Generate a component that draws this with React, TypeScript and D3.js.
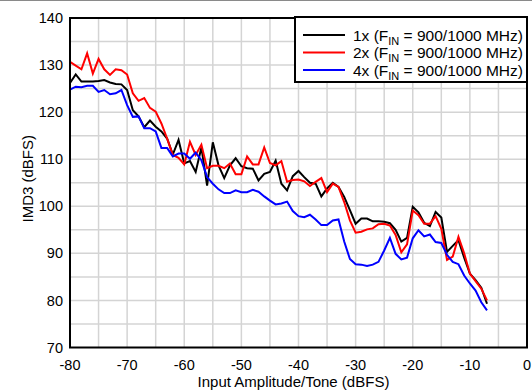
import React from 'react';
import * as d3 from 'd3';

const amplitude = [
  -80, -79, -78, -77, -76, -75, -74, -73, -72, -71,
  -70, -69, -68, -67, -66, -65, -64, -63, -62, -61,
  -60, -59, -58, -57, -56, -55, -54, -53, -52, -51,
  -50, -49, -48, -47, -46, -45, -44, -43, -42, -41,
  -40, -39, -38, -37, -36, -35, -34, -33, -32, -31,
  -30, -29, -28, -27, -26, -25, -24, -23, -22, -21,
  -20, -19, -18, -17, -16, -15, -14, -13, -12, -11,
  -10, -9, -8, -7,
];

const imd1x = [
  126.2, 128.0, 126.5, 126.5, 126.5, 126.6, 126.8, 126.3, 126.0, 125.9,
  124.7, 120.4, 119.1, 116.8, 118.2, 116.9, 115.9, 114.4, 111.0, 114.1,
  109.1, 109.6, 107.3, 112.5, 104.4, 113.6, 108.7, 106.0, 108.7, 110.2,
  108.5, 108.1, 108.0, 105.5, 106.9, 107.3, 109.7, 104.8, 103.4, 106.4,
  107.5, 106.2, 105.0, 104.8, 102.1, 103.8, 105.0, 104.1, 102.0, 99.2,
  96.3, 97.4, 97.4, 96.8, 96.8, 96.7, 96.4, 95.0, 92.5, 93.3,
  99.9, 98.7, 96.5, 95.8, 98.8, 97.6, 90.3, 91.6, 92.8, 89.1,
  85.7, 84.3, 82.7, 79.3,
];

const imd2x = [
  130.7, 129.9, 129.1, 132.5, 128.2, 131.3, 129.1, 127.9, 129.1, 128.9,
  128.0, 124.0, 122.4, 123.0, 120.9, 120.1, 117.6, 114.4, 110.9, 110.3,
  108.9, 113.7, 110.9, 113.1, 108.1, 108.6, 108.6, 108.1, 109.1, 106.8,
  106.8, 110.6, 108.9, 108.9, 112.5, 109.2, 108.7, 109.6, 105.2, 105.6,
  105.7, 105.3, 104.3, 105.2, 106.0, 103.0, 104.8, 104.1, 100.9, 97.0,
  94.4, 94.6, 95.1, 95.3, 96.2, 96.3, 95.9, 93.9, 90.2, 91.9,
  99.1, 98.1, 96.3, 96.3, 97.9, 95.2, 88.6, 89.3, 93.5, 90.0,
  85.7, 84.1, 82.5, 80.0,
];

const imd4x = [
  124.8, 125.4, 125.3, 125.6, 125.6, 124.3, 124.7, 123.8, 124.0, 124.7,
  121.5, 119.0, 119.1, 116.6, 116.6, 115.9, 112.4, 112.4, 110.6, 111.2,
  111.2, 110.1, 111.4, 109.8, 106.2, 104.8, 103.6, 102.8, 102.8, 103.4,
  103.0, 103.0, 103.5, 103.1, 102.1, 101.2, 100.4, 100.6, 101.0, 99.0,
  97.9, 97.7, 98.2, 97.2, 96.0, 96.0, 97.0, 97.2, 92.5, 88.8,
  87.7, 87.6, 87.3, 87.6, 88.2, 90.6, 93.3, 89.9, 88.7, 89.1,
  93.2, 94.9, 93.6, 94.0, 92.4, 92.2, 89.7, 88.2, 87.7, 85.3,
  83.6, 82.1, 79.6, 77.9,
];

const xTicks = [-80, -70, -60, -50, -40, -30, -20, -10, 0];
const yTicks = [70, 80, 90, 100, 110, 120, 130, 140];
const xGridLines = [-75, -70, -65, -60, -55, -50, -45, -40, -35, -30, -25, -20, -15, -10, -5];
const yGridLines = [75, 80, 85, 90, 95, 100, 105, 110, 115, 120, 125, 130, 135];
const seriesLabels = ['1x', '2x', '4x'];
const seriesColors = ['#000000', '#ff0000', '#0000ff'];
const seriesData = [imd1x, imd2x, imd4x];

const FONT = "Arial, 'Liberation Sans', sans-serif";

export default function App() {
  const W = 532;
  const H = 392;
  const left = 70;
  const right = 527;
  const top = 18;
  const bottom = 347.5;

  const x = d3.scaleLinear().domain([-80, 0]).range([left, right]);
  const y = d3.scaleLinear().domain([70, 140]).range([bottom, top]);

  const lineGen = d3
    .line<number>()
    .x((_, i) => x(amplitude[i]))
    .y((d) => y(d));

  const legendX = 295;
  const legendY = 17;
  const legendW = right - legendX;
  const legendH = 65;
  const rowY = [35, 52.5, 70];

  return (
    <svg
      width={W}
      height={H}
      style={{ position: 'absolute', left: 0, top: 0, background: '#fff' }}
      fontFamily={FONT}
    >
      <defs>
        <clipPath id="plotclip">
          <rect x={left} y={top} width={right - left} height={bottom - top} />
        </clipPath>
      </defs>
      <rect x={0} y={0} width={W} height={H} fill="#ffffff" />
      <line x1={0} x2={W} y1={0.5} y2={0.5} stroke="#8a8a8a" strokeWidth={1} />

      {/* grid */}
      <g stroke="#d4d4d4" strokeWidth={1.5}>
        {xGridLines.map((v) => (
          <line key={'gx' + v} x1={x(v)} x2={x(v)} y1={top} y2={bottom} />
        ))}
        {yGridLines.map((v) => (
          <line key={'gy' + v} x1={left} x2={right} y1={y(v)} y2={y(v)} />
        ))}
      </g>

      {/* series */}
      <g clipPath="url(#plotclip)">
        {seriesData.map((d, i) => (
          <path
            key={seriesLabels[i]}
            d={lineGen(d) || ''}
            fill="none"
            stroke={seriesColors[i]}
            strokeWidth={2}
            strokeLinejoin="miter"
          />
        ))}
      </g>

      {/* plot border */}
      <rect
        x={left}
        y={top}
        width={right - left}
        height={bottom - top}
        fill="none"
        stroke="#000"
        strokeWidth={2}
      />

      {/* y tick labels */}
      <g fontSize={14.5} fill="#000" textAnchor="end">
        {yTicks.map((v) => (
          <text key={'yt' + v} x={63} y={y(v)} dy="0.35em">
            {v}
          </text>
        ))}
      </g>

      {/* x tick labels */}
      <g fontSize={14.5} fill="#000" textAnchor="middle">
        {xTicks.map((v) => (
          <text key={'xt' + v} x={x(v)} y={370}>
            {v}
          </text>
        ))}
      </g>

      {/* axis titles */}
      <text x={(left + right) / 2 - 5} y={387} fontSize={15} textAnchor="middle" fill="#000">
        Input Amplitude/Tone (dBFS)
      </text>
      <text
        transform={`translate(33,${(top + bottom) / 2 - 4}) rotate(-90)`}
        fontSize={15}
        textAnchor="middle"
        fill="#000"
      >
        IMD3 (dBFS)
      </text>

      {/* legend */}
      <rect
        x={legendX}
        y={legendY}
        width={legendW}
        height={legendH}
        fill="#fff"
        stroke="#000"
        strokeWidth={2}
      />
      {seriesLabels.map((lab, i) => (
        <g key={'lg' + lab}>
          <line
            x1={303}
            x2={345}
            y1={rowY[i]}
            y2={rowY[i]}
            stroke={seriesColors[i]}
            strokeWidth={2}
          />
          <text x={353} y={rowY[i] + 5.5} fontSize={15.5} fill="#000">
            {lab} (F
            <tspan fontSize={11} dy={4}>
              IN
            </tspan>
            <tspan dy={-4}> = 900/1000 MHz)</tspan>
          </text>
        </g>
      ))}
    </svg>
  );
}
